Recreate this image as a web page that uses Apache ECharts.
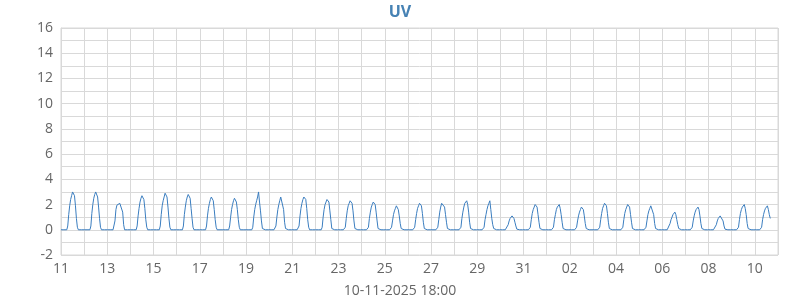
<!DOCTYPE html>
<html>
<head>
<meta charset="utf-8">
<script src="https://cdn.jsdelivr.net/npm/echarts@6/dist/echarts.min.js"></script>
<style>html,body{margin:0;padding:0;background:#fff}#c{width:800px;height:300px}</style>
</head>
<body>
<div id="c"></div>
<script>
// Day labels for each day offset from 11 Oct 2025 (index 0) to 11 Nov (index 31)
const dayLabels = ['11','12','13','14','15','16','17','18','19','20','21','22','23','24','25','26','27','28','29','30','31','01','02','03','04','05','06','07','08','09','10','11'];
const yTickLabels = ['-2','0','2','4','6','8','10','12','14','16'];
const xAxisName = '10-11-2025 18:00';
const firstHour = 6; // hourly readings from 06:00 to 18:00 each day, zero otherwise
// UV values per day, hours 06..18
const uvDays = [
  [0,0.3,1.2,1.9,2.4,2.7,3.0,3.1,2.7,1.9,0.9,0.2,0],      // 11 Oct
  [0,0.3,1.3,2.0,2.5,2.8,3.0,3.1,2.6,1.8,0.9,0.2,0],      // 12
  [0,0.1,0.7,1.6,1.95,2.0,2.05,2.1,2.15,2.25,1.4,0.4,0],  // 13
  [0,0.3,1.1,1.7,2.2,2.5,2.7,2.8,2.4,1.7,0.8,0.2,0],      // 14
  [0,0.3,1.2,1.9,2.3,2.6,2.9,3.0,2.6,1.8,0.9,0.2,0],      // 15
  [0,0.3,1.2,1.8,2.3,2.6,2.8,2.9,2.5,1.7,0.9,0.2,0],      // 16
  [0,0.3,1.1,1.7,2.1,2.4,2.6,2.7,2.3,1.6,0.8,0.2,0],      // 17
  [0,0.3,1.0,1.6,2.0,2.3,2.5,2.6,2.2,1.6,0.8,0.2,0],      // 18
  [0,0.2,1.0,1.6,2.0,2.3,2.6,3.0,2.2,1.5,0.7,0.1,0],      // 19
  [0,0.3,1.0,1.6,2.0,2.3,2.6,2.7,2.65,1.6,0.6,0.1,0],     // 20
  [0,0.3,1.1,1.7,2.1,2.4,2.6,2.7,2.4,1.7,0.8,0.2,0],      // 21
  [0,0.2,1.0,1.6,2.0,2.2,2.4,2.5,2.2,1.5,0.8,0.1,0],      // 22
  [0,0.2,0.9,1.5,1.9,2.1,2.3,2.4,2.1,1.5,0.7,0.1,0],      // 23
  [0,0.2,0.9,1.4,1.8,2.0,2.2,2.25,2.0,1.4,0.7,0.1,0],     // 24
  [0,0.2,0.7,1.2,1.5,1.7,1.9,2.0,1.6,1.1,0.5,0.1,0],      // 25
  [0,0.2,0.8,1.3,1.7,1.9,2.1,2.2,1.9,1.3,0.6,0.1,0],      // 26
  [0,0.2,0.8,1.4,1.8,2.1,2.15,2.2,1.8,1.2,0.6,0.1,0],     // 27
  [0,0.2,0.9,1.4,1.8,2.1,2.2,2.3,2.0,1.4,0.6,0.1,0],      // 28
  [0,0.2,0.8,1.2,1.6,1.9,2.1,2.3,1.6,0.9,0.4,0.1,0],      // 29
  [0,0.1,0.4,0.7,0.9,1.0,1.1,1.1,0.9,0.6,0.3,0.05,0],     // 30
  [0,0.2,0.8,1.3,1.6,1.8,2.0,2.1,1.8,1.2,0.6,0.1,0],      // 31
  [0,0.2,0.8,1.2,1.6,1.8,1.95,2.0,1.7,1.2,0.6,0.1,0],     // 01 Nov
  [0,0.2,0.7,1.1,1.4,1.6,1.8,1.85,1.6,1.1,0.5,0.1,0],     // 02
  [0,0.2,0.8,1.3,1.7,1.9,2.1,2.2,1.9,1.3,0.6,0.1,0],      // 03
  [0,0.2,0.8,1.3,1.6,1.8,2.0,2.1,1.8,1.2,0.6,0.1,0],      // 04
  [0,0.2,0.7,1.2,1.5,1.7,1.9,2.0,1.8,1.2,0.5,0.1,0],      // 05
  [0,0.1,0.5,0.8,1.0,1.2,1.35,1.4,1.2,0.8,0.4,0.1,0],     // 06
  [0,0.2,0.7,1.1,1.4,1.6,1.75,1.8,1.6,1.1,0.5,0.1,0],     // 07
  [0,0.1,0.4,0.7,0.9,1.0,1.1,1.15,1.0,0.7,0.3,0.05,0],    // 08
  [0,0.2,0.8,1.3,1.6,1.8,1.95,2.0,1.7,1.2,0.5,0.1,0],     // 09
  [0,0.2,0.8,1.2,1.5,1.7,1.8,1.9,1.6,1.2,0.9]             // 10 (to 16:00)
];

const seriesData = [];
for (let d = 0; d < uvDays.length; d++) {
  const vals = uvDays[d];
  const lastHour = d === uvDays.length - 1 ? firstHour + vals.length - 1 : 23;
  for (let h = 0; h <= lastHour; h++) {
    const i = h - firstHour;
    const v = (i >= 0 && i < vals.length) ? vals[i] : 0;
    seriesData.push([d + h / 24, v]);
  }
}

const font = "'Open Sans', sans-serif";
const chart = echarts.init(document.getElementById('c'), null, {renderer: 'canvas'});
chart.setOption({
  animation: false,
  title: [{
    text: 'UV', left: 'center', top: 4, padding: 0,
    textStyle: {fontFamily: font, fontSize: 16, fontWeight: 'bold', color: '#4682b4'}
  }, {
    text: xAxisName, left: 'center', top: 284, padding: 0,
    textStyle: {fontFamily: font, fontSize: 14, fontWeight: 'normal', color: '#666'}
  }],
  grid: {left: 61, right: 22, top: 28, bottom: 45, containLabel: false, outerBoundsMode: 'none',
         show: true, borderColor: '#d9d9d9', borderWidth: 1},
  xAxis: {
    type: 'value', min: 0, max: 31, interval: 1,
    axisLine: {show: true, lineStyle: {color: '#d9d9d9'}},
    axisTick: {show: false},
    splitLine: {show: true, lineStyle: {color: '#d9d9d9', width: 1}},
    axisLabel: {
      fontFamily: font, fontSize: 14, color: '#666', margin: 7, showMaxLabel: false,
      formatter: v => (v % 2 === 0 ? dayLabels[v] : '')
    }
  },
  yAxis: {
    type: 'value', min: -2, max: 16, interval: 1,
    axisLine: {show: true, lineStyle: {color: '#d9d9d9'}},
    axisTick: {show: false},
    splitLine: {show: true, lineStyle: {color: '#d9d9d9', width: 1}},
    axisLabel: {
      fontFamily: font, fontSize: 14, color: '#666', margin: 8,
      formatter: v => (yTickLabels.indexOf(String(v)) >= 0 ? String(v) : '')
    }
  },
  series: [{
    type: 'line', data: seriesData, showSymbol: false, symbol: 'none',
    lineStyle: {color: '#3a7dbf', width: 1}, itemStyle: {color: '#3a7dbf'}
  }]
});
</script>
</body>
</html>
